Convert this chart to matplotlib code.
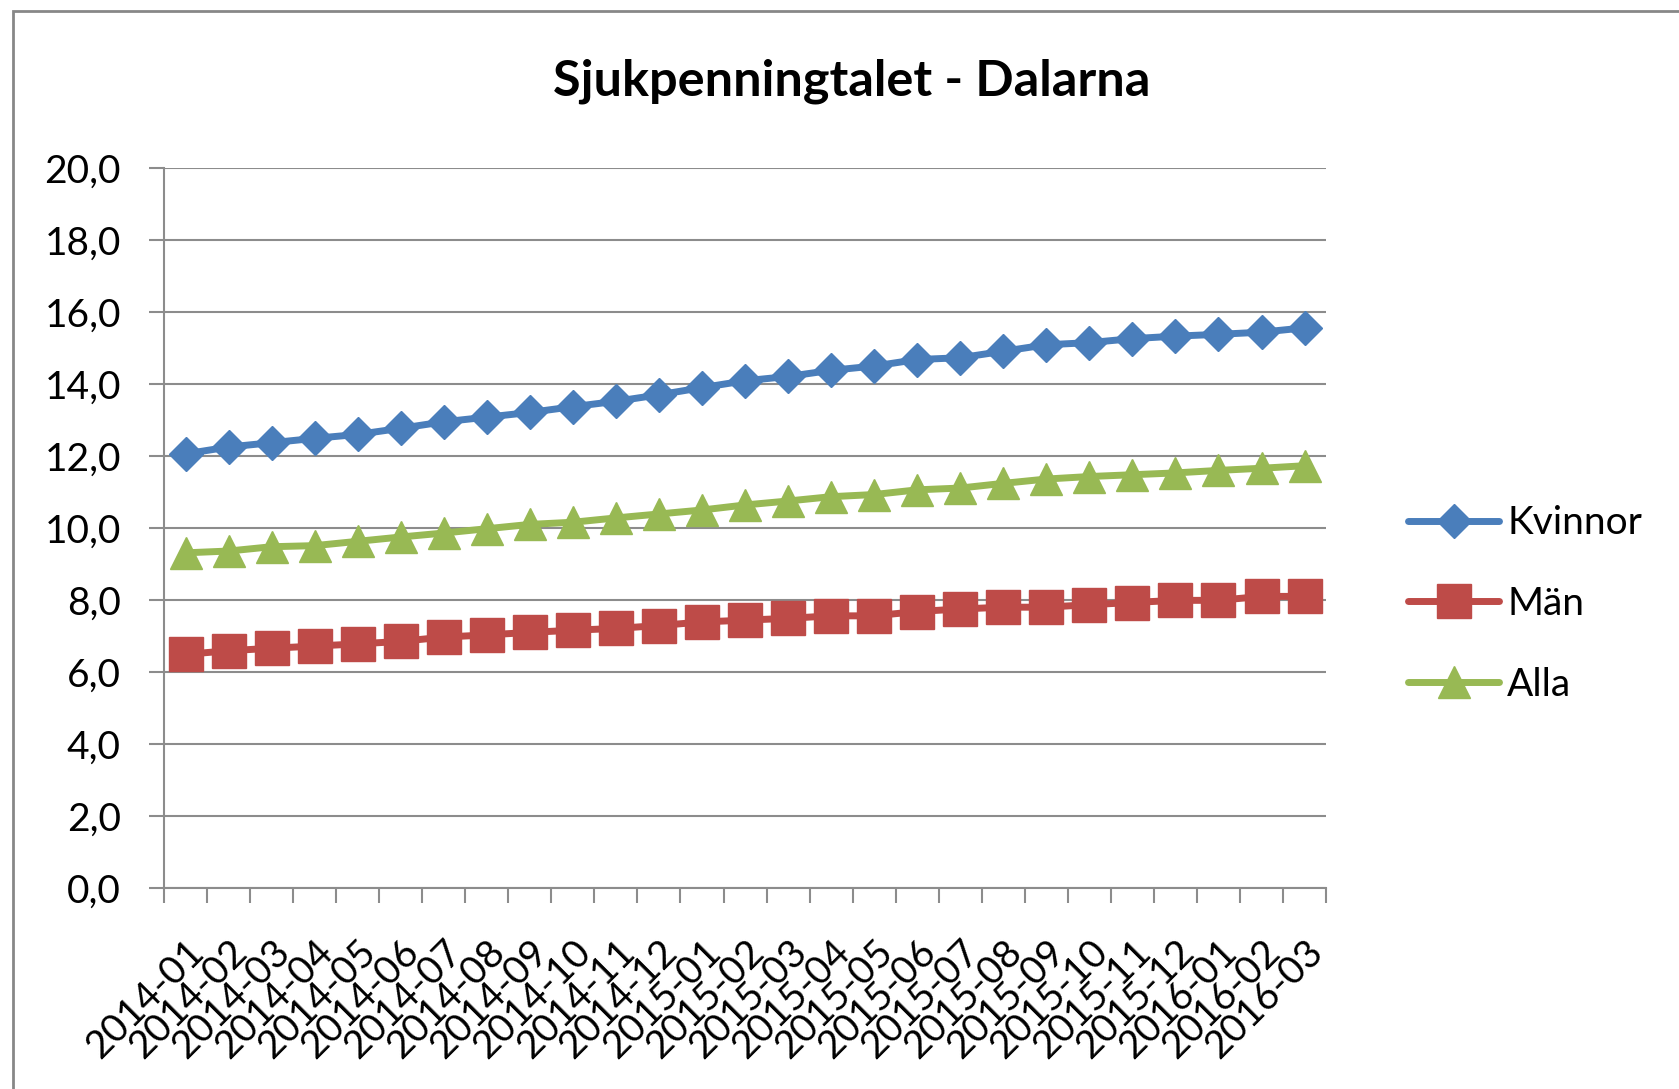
"""Sjukpenningtalet - Dalarna, monthly 2014-01 to 2016-03."""

import matplotlib

matplotlib.use("Agg")
import matplotlib.pyplot as plt
from matplotlib.patches import Rectangle
from matplotlib.ticker import FuncFormatter


MONTHS = [
    "2014-01", "2014-02", "2014-03", "2014-04", "2014-05", "2014-06",
    "2014-07", "2014-08", "2014-09", "2014-10", "2014-11", "2014-12",
    "2015-01", "2015-02", "2015-03", "2015-04", "2015-05", "2015-06",
    "2015-07", "2015-08", "2015-09", "2015-10", "2015-11", "2015-12",
    "2016-01", "2016-02", "2016-03",
]
KVINNOR = [
    12.06, 12.25, 12.37, 12.49, 12.60, 12.77, 12.95, 13.08, 13.21,
    13.37, 13.52, 13.70, 13.90, 14.09, 14.21, 14.38, 14.50, 14.68,
    14.73, 14.91, 15.09, 15.15, 15.26, 15.33, 15.38, 15.44, 15.56,
]
MAN = [
    6.49, 6.59, 6.66, 6.72, 6.78, 6.85, 6.97, 7.03, 7.10,
    7.16, 7.21, 7.29, 7.39, 7.44, 7.49, 7.56, 7.56, 7.68,
    7.75, 7.80, 7.80, 7.87, 7.93, 7.99, 7.99, 8.10, 8.10,
]
ALLA = [
    9.31, 9.36, 9.48, 9.51, 9.63, 9.75, 9.86, 9.98, 10.10,
    10.16, 10.28, 10.39, 10.50, 10.64, 10.75, 10.87, 10.93, 11.06,
    11.11, 11.24, 11.36, 11.43, 11.48, 11.53, 11.60, 11.66, 11.73,
]
Y_TICKS = [0, 2, 4, 6, 8, 10, 12, 14, 16, 18, 20]

TITLE = "Sjukpenningtalet - Dalarna"
GRID = "#8c8c8c"
FONT = ["Lato", "DejaVu Sans"]

plt.rcParams["font.family"] = FONT


def main():
    fig = plt.figure(figsize=(16.79, 10.89), dpi=100)
    ax = fig.add_axes([0.0977, 0.1846, 0.6921, 0.6611])

    x = list(range(len(MONTHS)))
    series = [
        ("Kvinnor", KVINNOR, "#4A7EBB", "D", 17),
        ("Män", MAN, "#BE4B48", "s", 24),
        ("Alla", ALLA, "#98B954", "^", 23),
    ]
    for label, values, color, marker, size in series:
        ax.plot(
            x, values, color=color, lw=5, marker=marker, markersize=size,
            markeredgewidth=1, markeredgecolor=color, label=label,
            solid_capstyle="round", zorder=3,
        )

    ax.set_xlim(-0.5, len(MONTHS) - 0.5)
    ax.set_ylim(0, 20)
    ax.set_yticks(Y_TICKS)
    ax.yaxis.set_major_formatter(FuncFormatter(lambda v, _: f"{v:.1f}".replace(".", ",")))
    ax.grid(axis="y", color=GRID, lw=1.5)
    ax.set_axisbelow(True)

    ax.set_xticks(x)
    ax.set_xticklabels(MONTHS, rotation=45, ha="right", va="top", rotation_mode="anchor")
    ax.set_xticks([i - 0.5 for i in range(len(MONTHS) + 1)], minor=True)
    ax.tick_params(axis="x", which="major", length=0, pad=33, labelsize=28)
    ax.tick_params(axis="x", which="minor", length=11, width=1.5, color=GRID)
    ax.tick_params(axis="y", length=11, width=1.5, color=GRID, pad=20, labelsize=28)

    ax.spines[["top", "right"]].set_visible(False)
    for side in ["left", "bottom"]:
        ax.spines[side].set_color(GRID)
        ax.spines[side].set_linewidth(1.5)

    fig.text(0.507, 0.912, TITLE, ha="center", va="baseline",
             fontsize=36.3, fontweight="bold")

    fig.legend(
        loc="center left", bbox_to_anchor=(0.8386, 0.4454), frameon=False,
        fontsize=28, handlelength=2.35, handletextpad=0.2, labelspacing=1.15,
        borderpad=0, borderaxespad=0,
    )

    fig.patches.append(Rectangle(
        (0.0077, -0.05), 1.1, 0.9899 + 0.05, transform=fig.transFigure,
        fill=False, edgecolor="#878787", lw=2,
    ))

    fig.savefig("out.png", dpi=100, facecolor="white")


if __name__ == "__main__":
    main()
